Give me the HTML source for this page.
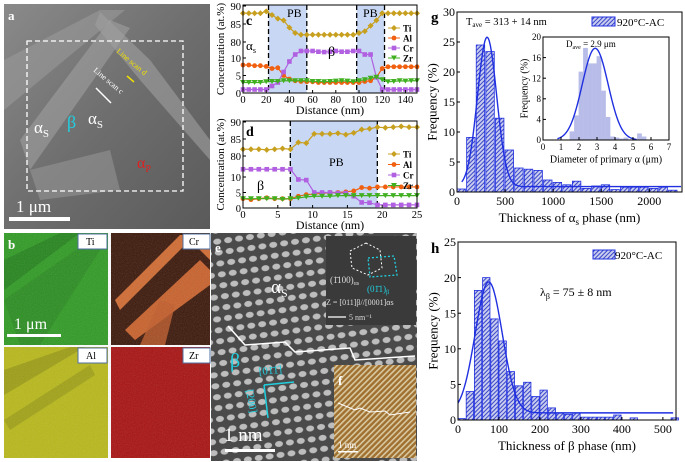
<!DOCTYPE html>
<html><head><meta charset="utf-8"><style>
html,body{margin:0;padding:0;background:#fff;}
svg{display:block;font-family:"Liberation Serif",serif;}
</style></head><body>
<svg id="fig" width="685" height="462" viewBox="0 0 685 462">
<defs>
<linearGradient id="semg" x1="0" y1="0" x2="1" y2="1"><stop offset="0" stop-color="#8a8a8a"/><stop offset="0.5" stop-color="#6e6e6e"/><stop offset="1" stop-color="#5a5a5a"/></linearGradient>
<pattern id="lattice" width="11" height="11" patternUnits="userSpaceOnUse" patternTransform="rotate(-8)"><rect width="11" height="11" fill="#4a4a4a"/><ellipse cx="5.5" cy="5.5" rx="4" ry="3" fill="#bdbdbd"/></pattern>
<pattern id="stripes" width="4" height="4" patternUnits="userSpaceOnUse" patternTransform="rotate(45)"><rect width="4" height="4" fill="#a07030"/><rect width="1.6" height="4" fill="#d8c8a0"/></pattern>
<pattern id="hatch" width="3" height="3" patternUnits="userSpaceOnUse" patternTransform="rotate(45)"><rect width="3" height="3" fill="#c8ccee"/><rect width="1" height="3" fill="#3a46c8"/></pattern>
<filter id="noise"><feTurbulence type="fractalNoise" baseFrequency="0.9" numOctaves="1" result="n"/><feColorMatrix type="saturate" values="0"/><feComponentTransfer><feFuncA type="linear" slope="0.35"/></feComponentTransfer><feComposite in2="SourceGraphic" operator="in"/></filter>
</defs>

<g>
<rect x="4" y="4" width="206" height="225" fill="url(#semg)"/>
<polygon points="4,60 100,10 125,10 4,110" fill="#9a9a9a" opacity="0.6"/>
<polygon points="20,140 110,20 130,28 30,170" fill="#a8a8a8" opacity="0.5"/>
<polygon points="100,12 150,60 210,140 210,160 140,80 95,25" fill="#a0a0a0" opacity="0.6"/>
<polygon points="30,170 110,150 120,190 40,200" fill="#9c9c9c" opacity="0.5"/>
<rect x="27" y="41" width="156" height="150" fill="none" stroke="#fff" stroke-width="1.3" stroke-dasharray="5,3"/>
<text x="8" y="20" font-size="13" font-weight="bold" fill="#fff">a</text>
<text x="34" y="133" font-size="17" fill="#fff">α<tspan font-size="11" dy="4">S</tspan></text>
<text x="67" y="128" font-size="18" fill="#20d0e0">β</text>
<text x="88" y="124" font-size="17" fill="#fff">α<tspan font-size="11" dy="4">S</tspan></text>
<text x="137" y="168" font-size="16" fill="#e02020">α<tspan font-size="10" dy="4">P</tspan></text>
<text x="116" y="52" font-size="8" fill="#f0e000" transform="rotate(40 116 52)">Line scan d</text>
<text x="93" y="71" font-size="8" fill="#fff" transform="rotate(40 93 71)">Line scan c</text>
<line x1="96" y1="88" x2="111" y2="103" stroke="#fff" stroke-width="1.5"/>
<line x1="127" y1="76" x2="134" y2="82" stroke="#f0e000" stroke-width="1.5"/>
<text x="16" y="212" font-size="17" fill="#fff">1 μm</text>
<rect x="9" y="217" width="61" height="4" fill="#fff"/>
</g>

<g>
<rect x="4" y="233" width="104" height="112" fill="#2e9a22"/>
<polygon points="4,260 60,233 80,233 4,290" fill="#1f7a18" opacity="0.7"/>
<polygon points="4,300 90,240 100,250 40,345 20,345" fill="#247f1c" opacity="0.5"/>
<rect x="111" y="233" width="99" height="112" fill="#3a1608"/>
<polygon points="115,300 180,235 195,235 120,310" fill="#d06a30"/>
<polygon points="125,330 200,260 210,270 210,285 135,340" fill="#c8602a"/>
<polygon points="185,235 200,235 210,250 210,260" fill="#d06a30"/>
<polygon points="140,345 160,300 175,305 165,345" fill="#c05a28" opacity="0.8"/>
<rect x="4" y="347" width="104" height="111" fill="#b8b818"/>
<polygon points="4,370 70,347 85,347 4,395" fill="#8a8a10" opacity="0.6"/>
<polygon points="4,420 90,365 95,375 10,430" fill="#8a8a10" opacity="0.5"/>
<rect x="111" y="347" width="99" height="111" fill="#a81010"/>
<rect x="4" y="233" width="206" height="225" fill="#fff" filter="url(#noise)" opacity="0.6"/>
<g font-size="10" fill="#000">
<rect x="78" y="234" width="29" height="15" fill="#fff" stroke="#5070a0"/><text x="86" y="245">Ti</text>
<rect x="183" y="234" width="27" height="15" fill="#fff" stroke="#5070a0"/><text x="189" y="245">Cr</text>
<rect x="78" y="348" width="29" height="15" fill="#fff" stroke="#5070a0"/><text x="86" y="359">Al</text>
<rect x="183" y="348" width="27" height="15" fill="#fff" stroke="#5070a0"/><text x="189" y="359">Zr</text>
</g>
<text x="8" y="249" font-size="13" font-weight="bold" fill="#fff">b</text>
<text x="14" y="329" font-size="16" fill="#fff">1 μm</text>
<rect x="7" y="334" width="54" height="3" fill="#fff"/>
</g>

<g>
<rect x="211" y="233" width="206" height="228" fill="url(#lattice)"/>
<rect x="326" y="236" width="90" height="89" fill="#3a3a3a"/>
<polygon points="366,243 380,250 382,268 368,275 352,268 350,251" fill="none" stroke="#fff" stroke-dasharray="2,2"/>
<polygon points="368,258 394,256 397,275 370,277" fill="none" stroke="#20d0e0" stroke-dasharray="2,2" stroke-width="1.3"/>
<text x="330" y="283" font-size="9" fill="#ddd">(1̄100)<tspan font-size="6" dy="2">αs</tspan></text>
<text x="367" y="292" font-size="9" fill="#20d0e0">(01̄1)<tspan font-size="6" dy="2">β</tspan></text>
<text x="326" y="305" font-size="8" fill="#ddd">Z = [011]β//[0001]αs</text>
<line x1="328" y1="317" x2="346" y2="317" stroke="#fff" stroke-width="1.3"/>
<text x="349" y="320" font-size="8" fill="#ddd">5 nm⁻¹</text>
<polyline points="228,326 245,345 285,342 295,352 350,348 355,360 415,356" fill="none" stroke="#fff" stroke-width="1.5"/>
<text x="215" y="252" font-size="13" font-weight="bold" fill="#fff">e</text>
<text x="271" y="293" font-size="19" fill="#fff">α<tspan font-size="12" dy="4">S</tspan></text>
<text x="230" y="367" font-size="20" fill="#20d0e0">β</text>
<line x1="264" y1="385" x2="294" y2="382" stroke="#20d0e0" stroke-width="1.5"/>
<line x1="264" y1="385" x2="268" y2="418" stroke="#20d0e0" stroke-width="1.5"/>
<text x="259" y="375" font-size="11" fill="#20d0e0" transform="rotate(-5 259 375)">[01̄1̄]</text>
<text x="246" y="390" font-size="11" fill="#20d0e0" transform="rotate(80 246 390)">[200]</text>
<text x="224" y="441" font-size="19" fill="#fff">1 nm</text>
<rect x="225" y="449" width="50" height="3" fill="#fff"/>
<rect x="334" y="365" width="82" height="93" fill="url(#stripes)"/>
<polyline points="338,403 355,410 360,408 370,412 385,411 390,415 410,412" fill="none" stroke="#fff" stroke-width="1"/>
<text x="338" y="385" font-size="13" font-weight="bold" fill="#fff">f</text>
<text x="338" y="448" font-size="9" fill="#fff">1 nm</text>
<rect x="338" y="451" width="20" height="1.5" fill="#fff"/>
</g>

<g id="charts"></g>
</svg>
<script>
const cDist = [0,5,10,15,20,25,30,35,40,45,50,55,60,65,70,75,80,85,90,95,100,105,110,115,120,125,130,135,140,145,150];
const cTi = [88,88,88,88,88.5,87.5,86.5,86,84,82.5,82,82,82,82,82,82,82,82,82,82,82.5,83,84.5,86,88,88,88,88,88,88,88];
const cAl = [8,8,7.8,7.8,7.6,7,7.2,5,4,3.5,3.3,3.2,3.2,3,3,3,3,3,3,3,3,3.3,3.5,4.5,7,7.5,7.5,7.5,7.5,7.5,7.5];
const cCr = [1,1,1,1,1,2,3,6,9,11,12,12,12,11.8,11.7,11.8,12,11.8,11.8,12,12,11,11,4.5,1,1,1,1,1,1,1];
const cZr = [3,3,3,3,3.2,3.3,3.3,3.5,3.5,3.5,3.5,3.5,3.3,3.3,3.2,3.3,3.4,3.5,3.4,3.2,3.5,3.8,4.2,4.5,3.8,3.2,3.3,3.5,3.4,3.5,3.5];
const cBounds = [22,55,98,122];
const cXTicks = [0,20,40,60,80,100,120,140];
const cYTicksUpper = [80,85,90];
const cYTicksLower = [0,5,10];
const dDist = [0,1.14,2.27,3.41,4.55,5.68,6.82,7.95,9.09,10.23,11.36,12.5,13.64,14.77,15.91,17.05,18.18,19.32,20.45,21.59,22.73,23.86,25];
const dTi = [82,82,82,81.8,82,82.2,82,84,83.8,86.5,86.5,86.5,86.7,86.3,86.8,87.8,88,88.5,88.3,88.5,88.7,88.5,88.5];
const dAl = [3,2.7,3,3.3,3,3,3,3.8,4.3,4.5,4.7,5,5,5.2,5.5,6.6,6.4,6.8,6.8,6.8,6.8,6.8,6.8];
const dCr = [12.5,12.5,12.5,12.5,12.5,12.5,12.5,9.2,9,5,5,5,4.8,4.8,3.8,1.8,1.7,1,1,1,1,1,1];
const dZr = [3,3,3,3,3,2.8,3,3.2,3.6,3.8,3.8,3.8,4,4,4,4,4,4,4,4,4,4,4];
const dBounds = [6.8,19.3];
const dXTicks = [0,5,10,15,20,25];
const gBins = [0,100,200,300,400,500,600,700,800,900,1000,1100,1200,1300,1400,1500,1600,1700,1800,1900,2000,2100,2200];
const gFreq = [0.5,9.1,24.5,23.4,12.3,7,4,3.8,3.6,2,1.6,1.2,1.8,0.6,1,1.2,0.4,0.8,0.8,0.8,0.6,0.8,0.3];
const gFit = [313,25.8,100,0.9];
const gXTicks = [0,500,1000,1500,2000];
const gYTicks = [0,5,10,15,20,25,30];
const iBins = [1.5,1.75,2,2.25,2.5,2.75,3,3.25,3.5,3.75,4,4.25,4.5,4.75,5,5.25,5.5];
const iFreq = [1.6,4.7,13.2,17.8,14.8,14.8,16.2,9.5,4.4,0.6,0.4,0.2,0.4,0,0,1.2,0.6];
const iFit = [2.9,17.8,0.72,0];
const iXTicks = [0,1,2,3,4,5,6,7];
const iYTicks = [0,4,8,12,16,20];
const hBins = [0,20,40,60,80,100,120,140,160,180,200,220,240,260,280,300,320,340,360,380,420,520];
const hFreq = [0.2,4,18.2,20,14.2,11.1,6.8,4.8,5.3,3.3,4.2,1.7,1,0.8,1,0.4,0.4,0.4,0.4,0.7,0.3,0.3];
const hFit = [75,19.4,33,1];
const hXTicks = [0,100,200,300,400,500];
const hYTicks = [0,5,10,15,20,25];

const NS='http://www.w3.org/2000/svg';
const root=document.getElementById('charts');
function mk(tag,attrs,parent,txt){const e=document.createElementNS(NS,tag);for(const k in attrs)e.setAttribute(k,attrs[k]);if(txt!==undefined)e.textContent=txt;(parent||root).appendChild(e);return e;}

const colors={Ti:'#c8a020',Al:'#f06010',Cr:'#b060e0',Zr:'#40b020'};
const markers={Ti:'diamond',Al:'circle',Cr:'square',Zr:'tri'};
function marker(g,type,x,y,c){let e;
 if(type==='circle')e=mk('circle',{cx:x,cy:y,r:2.4,fill:c},g);
 else if(type==='square')e=mk('rect',{x:x-2.3,y:y-2.3,width:4.6,height:4.6,fill:c},g);
 else if(type==='diamond')e=mk('polygon',{points:`${x},${y-3} ${x+3},${y} ${x},${y+3} ${x-3},${y}`,fill:c},g);
 else e=mk('polygon',{points:`${x-3},${y-2.5} ${x+3},${y-2.5} ${x},${y+2.5}`,fill:c},g);
 return e;}

function linePanel(opts){
 const {name,x0,x1,xmax,yTop,yU80,uScale,y0,lScale,dist,series,bounds,shade,xTicks,lbls}=opts;
 const xs=v=>x0+v*(x1-x0)/xmax;
 const ys=v=>v>=40? yU80-(v-80)*uScale : y0-v*lScale;
 const g=mk('g',{});
 
 
 shade.forEach(p=>{const r=mk('rect',{x:xs(bounds[p[0]]),y:yTop,width:xs(bounds[p[1]])-xs(bounds[p[0]]),height:y0-yTop,fill:'#c8d8f4'},g);
  
  });
 bounds.forEach(b=>{const l=mk('line',{x1:xs(b),x2:xs(b),y1:yTop,y2:y0,stroke:'#000','stroke-width':1.3,'stroke-dasharray':'5,3'},g);
  
  });
 Object.keys(series).forEach(k=>{const vals=series[k];
  const pl=mk('polyline',{points:vals.map((v,i)=>xs(dist[i])+','+ys(v)).join(' '),fill:'none',stroke:colors[k],'stroke-width':1.2},g);
  
  
  vals.forEach((v,i)=>{const m=marker(g,markers[k],xs(dist[i]),ys(v),colors[k]);
   
   });
 });
 const ax=mk('rect',{x:x0,y:yTop,width:x1-x0,height:y0-yTop,fill:'none',stroke:'#000','stroke-width':1},g);
 
 
 xTicks.forEach(t=>{mk('line',{x1:xs(t),x2:xs(t),y1:y0,y2:y0-3,stroke:'#000'},g);
  const tl=mk('text',{x:xs(t),y:y0+10,'font-size':10.5,'text-anchor':'middle'},g,String(t));
  
  });
 cYTicksUpper.concat(cYTicksLower).forEach(t=>{mk('line',{x1:x0,x2:x0+3,y1:ys(t),y2:ys(t),stroke:'#000'},g);
  const tl=mk('text',{x:x0-2,y:ys(t)+4,'font-size':10.5,'text-anchor':'end'},g,String(t));
  
  });
 const ylab=mk('text',{x:0,y:0,'font-size':11,'text-anchor':'middle',transform:`translate(${x0-19},${(yTop+y0)/2}) rotate(-90)`},g,'Concentration (at.%)');
 
 
 const xlab=mk('text',{x:(x0+x1)/2,y:y0+21,'font-size':12,'text-anchor':'middle'},g,'Distance (nm)');
 
 
 ['Ti','Al','Cr','Zr'].forEach((k,i)=>{const ly=lbls.legY+i*lbls.legDy;
  mk('line',{x1:lbls.legX-6,x2:lbls.legX+6,y1:ly,y2:ly,stroke:colors[k]},g);
  const m=marker(g,markers[k],lbls.legX,ly,colors[k]);
  
  
  const t=mk('text',{x:lbls.legX+9,y:ly+3.5,'font-size':9,'font-weight':'bold'},g,k);
  
  });
 lbls.texts.forEach(tt=>{const t=mk('text',{x:tt[0],y:tt[1],'font-size':tt[3],'font-weight':tt[4]||'normal'},g,'');
  t.innerHTML=tt[2];
  
  });
}
linePanel({name:'chart-c',x0:243,x1:417,xmax:150,yTop:5,yU80:42,uScale:3.6,y0:93,lScale:3.5,dist:cDist,
 series:{Ti:cTi,Al:cAl,Cr:cCr,Zr:cZr},bounds:cBounds,shade:[[0,1],[2,3]],xTicks:cXTicks,
 lbls:{legX:394,legY:28,legDy:10,texts:[[246,25,'c',14,'bold','panel-label-c'],[246,50,'α<tspan font-size="8" dy="3">s</tspan>',13,'normal','alpha-s-label-c'],[287,17,'PB',12,'normal','pb-label-1'],[363,17,'PB',12,'normal','pb-label-2'],[328,56,'β',14,'normal','beta-label-c']]}});
linePanel({name:'chart-d',x0:243,x1:417,xmax:25,yTop:121,yU80:156,uScale:3.4,y0:208,lScale:3.1,dist:dDist,
 series:{Ti:dTi,Al:dAl,Cr:dCr,Zr:dZr},bounds:dBounds,shade:[[0,1]],xTicks:dXTicks,
 lbls:{legX:394,legY:154,legDy:10.5,texts:[[246,136,'d',14,'bold','panel-label-d'],[257,190,'β',14,'normal','beta-label-d'],[329,166,'PB',12,'normal','pb-label-d']]}});

function gauss(v,f){return f[3]+(f[1]-f[3])*Math.exp(-0.5*Math.pow((v-f[0])/f[2],2));}
function hist(opts){
 const {name,x0,x1,xmin,xmax,yTop,y0,ymax,bins,freq,bw,fit,xTicks,yTicks,fill,fs,ylab,xlab,hatchStroke}=opts;
 const xs=v=>x0+(v-xmin)*(x1-x0)/(xmax-xmin);
 const ys=v=>y0-v*(y0-yTop)/ymax;
 const g=mk('g',{});
 
 
 mk('rect',{x:x0,y:yTop,width:x1-x0,height:y0-yTop,fill:'#fff'},g);
 bins.forEach((b,i)=>{const r=mk('rect',{x:xs(b),y:ys(freq[i]),width:xs(b+bw)-xs(b),height:y0-ys(freq[i]),fill:fill,stroke:hatchStroke,'stroke-width':0.8},g);
  
  });
 let pts=[];const fs0=opts.fitStart,fe=opts.fitEnd;for(let k=0;k<=200;k++){const v=fs0+k*(fe-fs0)/200;pts.push(xs(v)+','+ys(gauss(v,fit)));}
 const c=mk('polyline',{points:pts.join(' '),fill:'none',stroke:'#2030e0','stroke-width':1.4},g);
 
 
 const ax=mk('rect',{x:x0,y:yTop,width:x1-x0,height:y0-yTop,fill:'none',stroke:'#000'},g);
 
 
 xTicks.forEach(t=>{mk('line',{x1:xs(t),x2:xs(t),y1:y0,y2:y0-3,stroke:'#000'},g);
  const tl=mk('text',{x:xs(t),y:y0+fs+1,'font-size':fs,'text-anchor':'middle'},g,String(t));
  
  });
 yTicks.forEach(t=>{mk('line',{x1:x0,x2:x0+3,y1:ys(t),y2:ys(t),stroke:'#000'},g);
  const tl=mk('text',{x:x0-2,y:ys(t)+fs*0.35,'font-size':fs,'text-anchor':'end'},g,String(t));
  
  });
 const yl=mk('text',{x:0,y:0,'font-size':fs+1,'text-anchor':'middle',transform:`translate(${x0-fs*1.7},${(yTop+y0)/2}) rotate(-90)`},g,ylab);
 
 
 const xl=mk('text',{x:(x0+x1)/2,y:y0+fs*2.5,'font-size':fs+1,'text-anchor':'middle'},g,'');
 xl.innerHTML=xlab;
 
 
 return g;
}
hist({name:'chart-g',x0:457,x1:682,xmin:0,xmax:2340,yTop:12,y0:192,ymax:30,bins:gBins,freq:gFreq,bw:88,fit:gFit,fitStart:50,fitEnd:2330,
 xTicks:gXTicks,yTicks:gYTicks,fill:'url(#hatch)',hatchStroke:'#2030e0',fs:12,ylab:'Frequency (%)',xlab:'Thickness of α<tspan font-size="9" dy="3">s</tspan><tspan dy="-3"> phase (nm)</tspan>'});
hist({name:'chart-g-inset',x0:543,x1:669,xmin:0,xmax:7,yTop:37,y0:140,ymax:20,bins:iBins,freq:iFreq,bw:0.22,fit:iFit,fitStart:0.8,fitEnd:5.2,
 xTicks:iXTicks,yTicks:iYTicks,fill:'#b8bce8',hatchStroke:'#b8bce8',fs:9,ylab:'Frequency (%)',xlab:'Diameter of primary α (μm)'});
hist({name:'chart-h',x0:458,x1:676,xmin:0,xmax:532,yTop:242,y0:420,ymax:25,bins:hBins,freq:hFreq,bw:18,fit:hFit,fitStart:0,fitEnd:525,
 xTicks:hXTicks,yTicks:hYTicks,fill:'url(#hatch)',hatchStroke:'#2030e0',fs:12,ylab:'Frequency (%)',xlab:'Thickness of β phase (nm)'});

function txt(x,y,s,fsz,name,extra){const t=mk('text',Object.assign({x:x,y:y,'font-size':fsz},extra||{}),root);t.innerHTML=s;
 
 return t;}
txt(431,22,'g',15,'panel-label-g',{'font-weight':'bold'});
txt(466,25,'T<tspan font-size="7" dy="2">ave</tspan><tspan dy="-2"> = 313 + 14 nm</tspan>',10.5,'t-ave-annotation');
const lg=mk('rect',{x:592,y:17,width:23,height:9,fill:'url(#hatch)',stroke:'#2030e0'});


txt(617,26,'920°C-AC',11,'legend-entry-g');
txt(566,47,'D<tspan font-size="6" dy="2">ave</tspan><tspan dy="-2"> = 2.9 μm</tspan>',9,'d-ave-annotation');
txt(431,253,'h',15,'panel-label-h',{'font-weight':'bold'});
const lh=mk('rect',{x:593,y:250,width:22,height:9,fill:'url(#hatch)',stroke:'#2030e0'});


txt(615,259,'920°C-AC',11,'legend-entry-h');
txt(540,296,'λ<tspan font-size="8" dy="3">β</tspan><tspan dy="-3"> = 75 ± 8 nm</tspan>',12,'lambda-annotation');
</script>
</body></html>
